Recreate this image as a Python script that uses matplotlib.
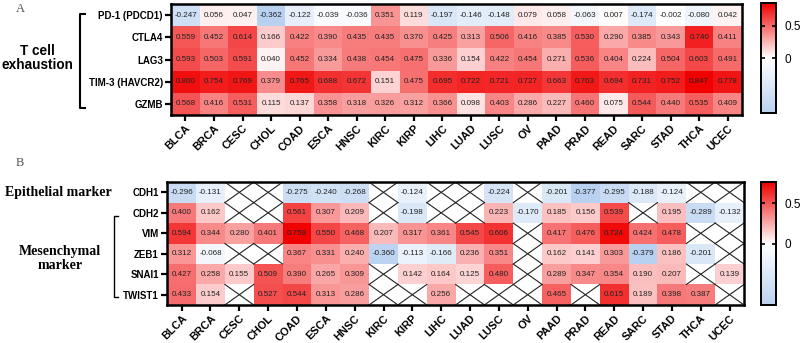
import numpy as np
import matplotlib
matplotlib.use("Agg")
import matplotlib.pyplot as plt
from matplotlib.colors import LinearSegmentedColormap, TwoSlopeNorm
from matplotlib.lines import Line2D

cancers = ["BLCA", "BRCA", "CESC", "CHOL", "COAD", "ESCA", "HNSC", "KIRC", "KIRP", "LIHC",
           "LUAD", "LUSC", "OV", "PAAD", "PRAD", "READ", "SARC", "STAD", "THCA", "UCEC"]

genes_a = ["PD-1 (PDCD1)", "CTLA4", "LAG3", "TIM-3 (HAVCR2)", "GZMB"]
pd1 = [-0.247, 0.056, 0.047, -0.362, -0.122, -0.039, -0.036, 0.351, 0.119, -0.197,
       -0.146, -0.148, 0.079, 0.058, -0.063, 0.007, -0.174, -0.002, -0.080, 0.042]
ctla4 = [0.559, 0.452, 0.614, 0.166, 0.422, 0.390, 0.435, 0.435, 0.370, 0.425,
         0.313, 0.506, 0.416, 0.385, 0.530, 0.290, 0.385, 0.343, 0.740, 0.411]
lag3 = [0.593, 0.503, 0.591, 0.040, 0.452, 0.334, 0.438, 0.454, 0.475, 0.336,
        0.154, 0.422, 0.454, 0.271, 0.536, 0.404, 0.224, 0.504, 0.603, 0.491]
tim3 = [0.800, 0.754, 0.769, 0.379, 0.765, 0.688, 0.672, 0.151, 0.475, 0.695,
        0.722, 0.721, 0.727, 0.663, 0.763, 0.694, 0.731, 0.752, 0.847, 0.778]
gzmb = [0.568, 0.416, 0.531, 0.115, 0.137, 0.358, 0.318, 0.326, 0.312, 0.366,
        0.098, 0.403, 0.286, 0.227, 0.460, 0.075, 0.544, 0.440, 0.535, 0.409]

N = None
genes_b = ["CDH1", "CDH2", "VIM", "ZEB1", "SNAI1", "TWIST1"]
cdh1 = [-0.296, -0.131, N, N, -0.275, -0.240, -0.268, N, -0.124, N,
        N, -0.224, N, -0.201, -0.377, -0.295, -0.188, -0.124, N, N]
cdh2 = [0.400, 0.162, N, N, 0.561, 0.307, 0.209, N, -0.198, N,
        N, 0.223, -0.170, 0.185, 0.156, 0.539, N, 0.195, -0.289, -0.132]
vim = [0.594, 0.344, 0.280, 0.401, 0.759, 0.550, 0.468, 0.207, 0.317, 0.361,
       0.545, 0.606, N, 0.417, 0.476, 0.724, 0.424, 0.478, N, N]
zeb1 = [0.312, -0.068, N, N, 0.367, 0.331, 0.240, -0.360, -0.113, -0.166,
        0.236, 0.351, N, 0.162, 0.141, 0.303, -0.379, 0.186, -0.201, N]
snai1 = [0.427, 0.258, 0.155, 0.509, 0.390, 0.265, 0.309, N, 0.142, 0.164,
         0.125, 0.480, N, 0.289, 0.347, 0.354, 0.190, 0.207, N, 0.139]
twist1 = [0.433, 0.154, N, 0.527, 0.544, 0.313, 0.286, N, N, 0.256,
          N, N, N, 0.465, N, 0.615, 0.189, 0.398, 0.387, N]

cbar_ticks = [0, 0.5]

plt.rcParams['font.family'] = ['Liberation Sans', 'DejaVu Sans']

cmap = LinearSegmentedColormap.from_list("bwr2", ["#b9d1f0", "#ffffff", "#f00000"])

fig = plt.figure(figsize=(8, 3.43), dpi=100)


def to_arr(rows):
    return np.array([[np.nan if v is None else v for v in r] for r in rows], dtype=float)


def draw(ax, cax, data, genes):
    vmin, vmax = np.nanmin(data), np.nanmax(data)
    norm = TwoSlopeNorm(vmin=vmin, vcenter=0, vmax=vmax)
    m = np.ma.masked_invalid(data)
    nr, nc = data.shape
    mesh = ax.pcolormesh(np.arange(nc + 1), np.arange(nr + 1), m, cmap=cmap, norm=norm)
    ax.set_xlim(0, nc)
    ax.set_ylim(nr, 0)
    for i in range(nr):
        for j in range(nc):
            v = data[i, j]
            if np.isnan(v):
                ax.plot([j, j + 1], [i, i + 1], color='#222222', lw=0.8)
                ax.plot([j, j + 1], [i + 1, i], color='#222222', lw=0.8)
            else:
                ax.text(j + 0.5, i + 0.5, f"{v:.3f}", ha='center', va='center',
                        fontsize=5.8, color='#222222')
    ax.set_xticks(np.arange(nc) + 0.5)
    ax.set_xticklabels(cancers, rotation=45, ha='right', rotation_mode='anchor',
                       fontsize=7.8, fontweight='bold')
    ax.set_yticks(np.arange(nr) + 0.5)
    ax.set_yticklabels(genes, fontsize=7, fontweight='bold')
    ax.tick_params(axis='both', direction='out', length=4, width=1.6, pad=2)
    for s in ax.spines.values():
        s.set_linewidth(1.8)
    cb = fig.colorbar(mesh, cax=cax, ticks=cbar_ticks)
    cb.ax.set_yticklabels(["0", "0.5"])
    cb.ax.tick_params(direction='in', length=3, width=1.2, labelsize=8.5,
                      left=True, right=True, pad=6)
    cb.outline.set_linewidth(1.4)


ax1 = fig.add_axes([0.214, 0.6647, 0.7135, 0.3233])
cax1 = fig.add_axes([0.951, 0.6706, 0.019, 0.3204])
draw(ax1, cax1, to_arr([pd1, ctla4, lag3, tim3, gzmb]), genes_a)

ax2 = fig.add_axes([0.209, 0.111, 0.721, 0.358])
cax2 = fig.add_axes([0.951, 0.111, 0.019, 0.358])
draw(ax2, cax2, to_arr([cdh1, cdh2, vim, zeb1, snai1, twist1]), genes_b)

# Panel letters
fig.text(0.025, 0.975, "A", family='Liberation Serif', fontsize=9, color='#555555',
         ha='center', va='center')
fig.text(0.025, 0.525, "B", family='Liberation Serif', fontsize=9, color='#555555',
         ha='center', va='center')

# Group labels
fig.text(0.047, 0.831, "T cell\nexhaustion", ha='center', va='center', fontsize=9.8,
         fontweight='bold', linespacing=1.05)
fig.text(0.073, 0.44, "Epithelial marker", family='Liberation Serif', ha='center',
         va='center', fontsize=10, fontweight='bold')
fig.text(0.075, 0.245, "Mesenchymal\nmarker", family='Liberation Serif', ha='center',
         va='center', fontsize=10, fontweight='bold', linespacing=1.1)

# Brackets
def bracket(x, y0, y1, w, lw):
    fig.add_artist(Line2D([x + w, x, x, x + w], [y0, y0, y1, y1], color='black',
                          lw=lw, transform=fig.transFigure))

bracket(0.100, 0.959, 0.685, 0.006, 1.5)
bracket(0.1425, 0.370, 0.134, 0.005, 1.0)

fig.savefig("out.png", dpi=100)
